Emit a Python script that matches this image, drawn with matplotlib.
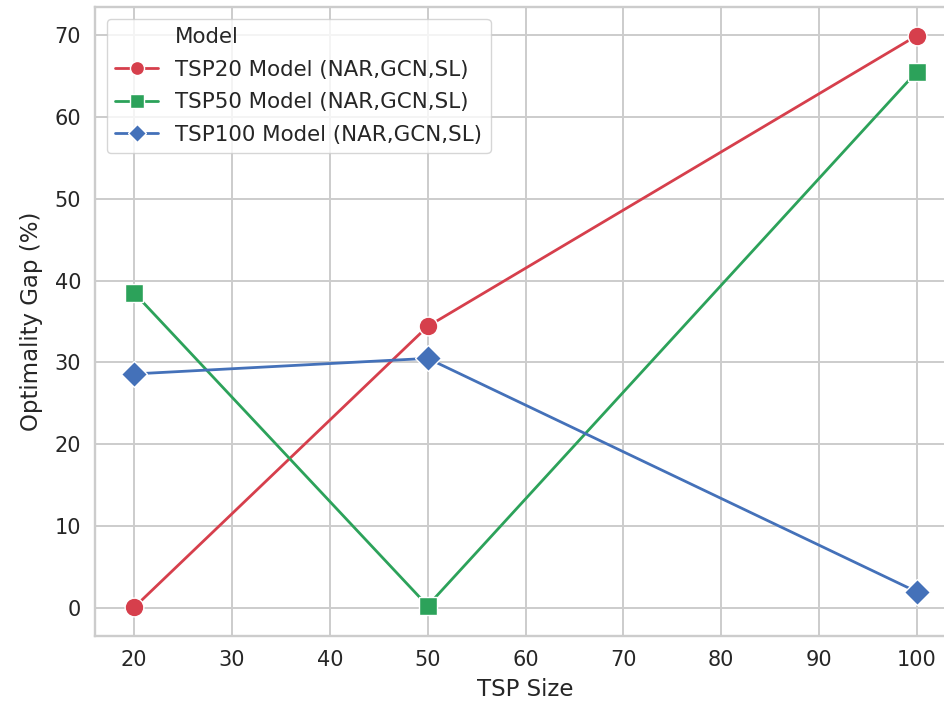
import matplotlib
matplotlib.use("Agg")
import matplotlib.pyplot as plt
from matplotlib.lines import Line2D
import seaborn as sns

# optimality gap of each trained model, evaluated on every TSP size
tsp_sizes = [20, 50, 100]
gap_tsp20_model = [0.1, 34.4, 69.9]
gap_tsp50_model = [38.5, 0.3, 65.5]
gap_tsp100_model = [28.6, 30.5, 2.0]

model_names = [
    "TSP20 Model (NAR,GCN,SL)",
    "TSP50 Model (NAR,GCN,SL)",
    "TSP100 Model (NAR,GCN,SL)",
]
colors = ["#d63f4c", "#2ca25a", "#4471b9"]
markers = ["o", "s", "D"]
marker_sizes = [13.5, 13.5, 12.8]

sns.set_theme(style="whitegrid")
plt.rcParams["font.family"] = ["DejaVu Sans"]

fig = plt.figure(figsize=(9.44, 7.05), dpi=100)
# axes extends slightly past the right edge of the canvas
ax = fig.add_axes([95 / 944, 69 / 705, 861 / 944, 629 / 705])

series = [gap_tsp20_model, gap_tsp50_model, gap_tsp100_model]
handles = [Line2D([], [], linestyle="none", marker="none")]
labels = ["Model"]
for name, vals, c, m, ms in zip(model_names, series, colors, markers, marker_sizes):
    line, = ax.plot(tsp_sizes, vals, color=c, lw=2.0, marker=m, markersize=ms,
                    markeredgecolor="white", markeredgewidth=1.0, label=name)
    handles.append(line)
    labels.append(name)

ax.grid(True, color="#cccccc", linewidth=1.4)
for sp in ax.spines.values():
    sp.set_color("#cccccc")
    sp.set_linewidth(1.7)

ax.tick_params(axis="both", labelsize=15, colors="#262626", length=0, pad=10)
ax.set_xlabel("TSP Size", fontsize=16.5, color="#262626", labelpad=6)
ax.set_ylabel("Optimality Gap (%)", fontsize=16.5, color="#262626", labelpad=8)

leg = ax.legend(handles, labels, loc="upper left", fontsize=15.4,
                bbox_to_anchor=(0.0, 1.0), borderaxespad=0.55,
                labelspacing=0.58, handlelength=2.0, markerscale=0.75,
                framealpha=0.8)
leg.get_frame().set_edgecolor("#cccccc")
for t in leg.get_texts():
    t.set_color("#262626")

fig.savefig("out.png", dpi=100)
